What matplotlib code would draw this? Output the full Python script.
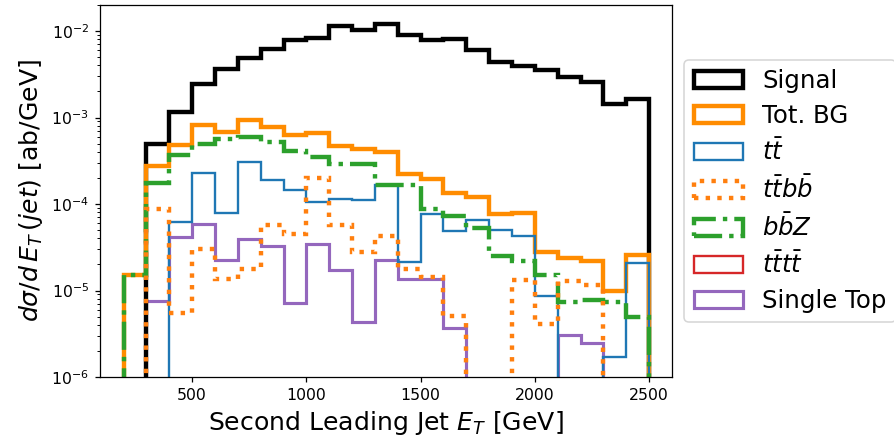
import numpy as np
import matplotlib
matplotlib.use("Agg")
import matplotlib.pyplot as plt

# bin edges, 100 GeV wide
edges = np.arange(200, 2600, 100)

signal = [0, 5.0e-4, 1.16e-3, 2.47e-3, 3.67e-3, 4.87e-3, 6.25e-3, 7.95e-3, 8.4e-3,
          1.13e-2, 1.02e-2, 1.22e-2, 9.1e-3, 7.9e-3, 8.1e-3, 5.98e-3, 4.39e-3,
          3.91e-3, 3.58e-3, 2.94e-3, 2.57e-3, 1.45e-3, 1.62e-3]
tot_bg = [1.5e-5, 2.75e-4, 4.86e-4, 8.3e-4, 6.8e-4, 9.45e-4, 7.76e-4, 6.2e-4, 6.6e-4,
          4.64e-4, 4.29e-4, 4.0e-4, 2.2e-4, 1.96e-4, 1.34e-4, 1.2e-4, 7.75e-5,
          7.9e-5, 2.79e-5, 2.38e-5, 2.19e-5, 9.8e-6, 2.55e-5]
ttbar = [0, 0, 6.2e-5, 2.28e-4, 7.87e-5, 3.06e-4, 1.88e-4, 1.47e-4, 1.05e-4,
         1.15e-4, 1.1e-4, 1.64e-4, 2.14e-5, 7.75e-5, 4.88e-5, 6.6e-5, 4.96e-5,
         4.24e-5, 8.65e-6, 0, 0, 1.7e-6, 2.09e-5]
ttbb = [0, 8.85e-5, 5.5e-6, 2.99e-5, 1.35e-5, 1.75e-5, 5.68e-5, 4.47e-5, 2.02e-4,
        5.78e-5, 2.79e-5, 4.24e-5, 1.75e-5, 1.43e-5, 5.1e-6, 0, 0,
        1.33e-5, 4.07e-6, 1.3e-5, 1.15e-5, 0, 0]
bbz = [1.5e-5, 1.75e-4, 3.73e-4, 4.99e-4, 5.7e-4, 5.95e-4, 5.2e-4, 4.1e-4, 3.5e-4,
       2.93e-4, 2.93e-4, 1.67e-4, 1.64e-4, 8.85e-5, 7.2e-5, 5.27e-5, 2.48e-5,
       2.19e-5, 1.5e-5, 7.4e-6, 7.85e-6, 7.4e-6, 4.9e-6]
tttt = [0] * 23
single_top = [0, 7.5e-6, 4.17e-5, 5.93e-5, 2.23e-5, 3.98e-5, 3.27e-5, 7.2e-6, 3.42e-5,
              1.71e-5, 4.33e-6, 2.27e-5, 1.37e-5, 1.37e-5, 3.7e-6, 0, 0,
              0, 0, 3.1e-6, 2.5e-6, 0, 0]

DPI = 113
fig = plt.figure(figsize=(894 / DPI, 442 / DPI), dpi=DPI)
ax = fig.add_axes([100 / 894, 65 / 442, 572 / 894, 372 / 442])
ax.set_yscale('log', nonpositive='clip')

centers = edges[:-1] + 50
ax.hist(centers, bins=edges, weights=signal, histtype='step', color='black', lw=2.8, label='Signal')
ax.hist(centers, bins=edges, weights=tot_bg, histtype='step', color='darkorange', lw=2.8, label='Tot. BG')
ax.hist(centers, bins=edges, weights=ttbar, histtype='step', color='tab:blue', lw=1.5, label=r'$t\bar{t}$')
ax.hist(centers, bins=edges, weights=ttbb, histtype='step', color='tab:orange', lw=2.8, ls=':',
        label=r'$t\bar{t}b\bar{b}$', zorder=3)
ax.hist(centers, bins=edges, weights=bbz, histtype='step', color='tab:green', lw=2.8, ls='-.',
        label=r'$b\bar{b}Z$')
ax.hist(centers, bins=edges, weights=tttt, histtype='step', color='tab:red', lw=1.5,
        label=r'$t\bar{t}t\bar{t}$')
ax.hist(centers, bins=edges, weights=single_top, histtype='step', color='tab:purple', lw=2,
        label='Single Top', zorder=0.9)

ax.set_xlim(97, 2600)
ax.set_ylim(1e-6, 2e-2)
ax.set_xticks([500, 1000, 1500, 2000, 2500])
ax.tick_params(labelsize=10)
ax.set_xlabel(r'Second Leading Jet $E_T$ [GeV]', fontsize=16)
ax.set_ylabel(r'$d\sigma/d\,E_T\,(jet)$ [ab/GeV]', fontsize=16)
ax.legend(loc='center left', bbox_to_anchor=(1.0, 0.5), fontsize=15.5, labelspacing=0.42)

fig.savefig('out.png', dpi=DPI)
